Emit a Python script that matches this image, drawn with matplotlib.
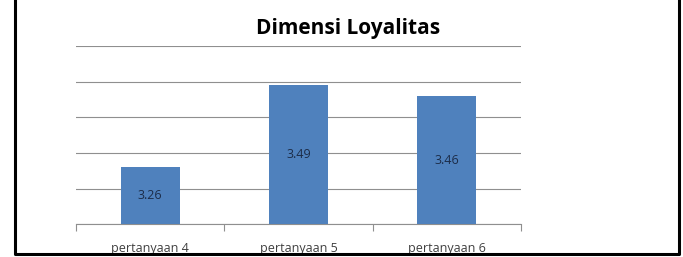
import matplotlib.pyplot as plt
from matplotlib.lines import Line2D

categories = ["pertanyaan 4", "pertanyaan 5", "pertanyaan 6"]
values = [3.26, 3.49, 3.46]
yticks = [3.1, 3.2, 3.3, 3.4, 3.5, 3.6]

plt.rcParams['font.family'] = ['Open Sans', 'DejaVu Sans']

fig = plt.figure(figsize=(6.83, 2.57), dpi=100)
ax = fig.add_axes([0.1113, 0.1272, 0.6515, 0.694])

x = range(len(categories))
bars = ax.bar(x, [v - yticks[0] for v in values], bottom=yticks[0],
              width=0.4, color='#4F81BD', zorder=3)

for xi, v in zip(x, values):
    ax.text(xi, (yticks[0] + v) / 2, f"{v:.2f}", ha='center', va='center',
            fontsize=9, color='#1c2c48', zorder=4)

ax.set_ylim(yticks[0], yticks[-1])
ax.set_xlim(-0.5, len(categories) - 0.5)
ax.set_yticks(yticks)
ax.set_yticklabels([])
ax.tick_params(axis='y', length=0)
ax.grid(axis='y', color='#8f8f8f', linewidth=0.8, zorder=0)

# tick marks at category boundaries, labels at centers
ax.set_xticks([-0.5, 0.5, 1.5, 2.5])
ax.set_xticklabels([])
ax.tick_params(axis='x', which='major', length=5, color='#8f8f8f', width=0.8)
ax.set_xticks(list(x), minor=True)
ax.set_xticklabels(categories, minor=True, fontsize=9, color='#404040')
ax.tick_params(axis='x', which='minor', length=0, pad=13)

for s in ['top', 'left', 'right']:
    ax.spines[s].set_visible(False)
ax.spines['bottom'].set_color('#8f8f8f')
ax.spines['bottom'].set_linewidth(0.8)

fig.text(0.51, 0.89, "Dimensi Loyalitas", ha='center', va='center',
         fontsize=15, fontweight='bold', color='black')

# outer frame (left, bottom, right)
fx0, fx1, fy0 = 15 / 683, 679 / 683, 1 - 254 / 257
fig.add_artist(Line2D([fx0, fx0, fx1, fx1], [1.0, fy0, fy0, 1.0],
                      transform=fig.transFigure, color='black', linewidth=2.2))

fig.savefig("out.png", dpi=100)
